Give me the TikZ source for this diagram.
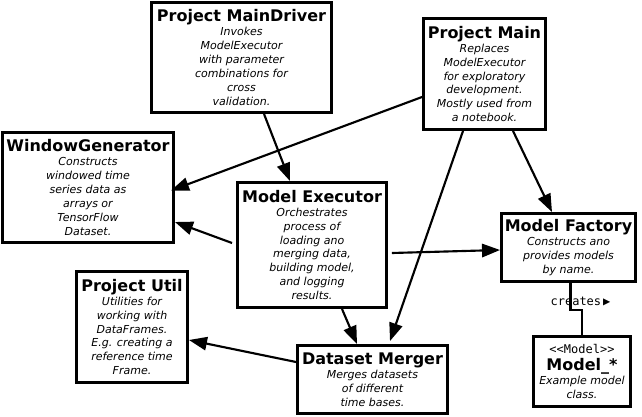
\documentclass[tikz,border=0pt]{standalone}
\usepackage{fontspec}
\setmainfont{DejaVu Sans}
\newfontfamily\monofont{DejaVu Sans Mono}
\usetikzlibrary{arrows.meta, calc}
\newcommand{\clsbox}[2]{{\fontsize{12}{14}\selectfont\bfseries\upshape #1}\\#2}

\begin{document}
\begin{tikzpicture}
        [
            x=0.75pt, y=-0.75pt,
            box/.style 2 args={draw, line width=2.2pt, align=center, inner sep=2pt,
                          minimum width=#1*0.75pt, minimum height=#2*0.75pt,
                          font=\fontsize{8.25}{10.4}\selectfont\itshape},
            dep/.style={-{Triangle[length=13.5pt, width=10pt]}, line width=1.6pt},
            mono/.style={font=\monofont\fontsize{9}{11}\selectfont}
        ]
        \path [fill=white] (0,0) rectangle (642,417);
        \node (driver) [box={180}{110}] at (241.5,57.5)
            {\clsbox{Project MainDriver}{Invokes\\ModelExecutor\\with parameter\\combinations for\\cross\\validation.}};
        \node (main) [box={122}{111}] at (484.5,74)
            {\clsbox{Project Main}{Replaces\\ModelExecutor\\for exploratory\\development.\\Mostly used from\\a notebook.}};
        \node (window) [box={171}{110}] at (88,187.5)
            {\clsbox{WindowGenerator}{Constructs\\windowed time\\series data as\\arrays or\\TensorFlow\\Dataset.}};
        \node (exec) [box={149}{125}] at (312,245)
            {\clsbox{Model Executor}{Orchestrates\\process of\\loading ano\\merging data,\\building model,\\and logging\\results.}};
        \node (factory) [box={134}{68}] at (568.5,247.5)
            {\clsbox{Model Factory}{Constructs ano\\provides models\\by name.}};
        \node (util) [box={111}{111}] at (132,327)
            {\clsbox{Project Util}{Utilities for\\working with\\DataFrames.\\E.g. creating a\\reference time\\Frame.}};
        \node (merger) [box={150}{68}] at (372.5,379.5)
            {\clsbox{Dataset Merger}{Merges datasets\\of different\\time bases.}};
        \node (model) [box={97}{70}] at (582,371.5)
            {{\monofont\upshape\fontsize{9}{11}\selectfont <\kern0pt<Model>\kern0pt>}\\[2pt]\clsbox{Model\_*}{Example model\\class.}};
        % dependencies
        \draw [dep] ($(driver.south)+(22.5,0)$) -- ($(exec.north)+(-22,0)$);
        \draw [dep] ($(main.west)+(0,23)$) -- ($(window.east)+(-4,3)$);
        \draw [dep] ($(exec.west)+(-4,-2)$) -- ($(window.east)+(0,34.5)$);
        \draw [dep] ($(exec.east)+(4,8)$) -- ($(factory.west)+(0,2.5)$);
        \draw [dep] ($(main.south)+(-21.5,0)$) -- ($(merger.north)+(17.5,-3)$);
        \draw [dep] ($(main.south)+(28.5,0)$) -- ($(factory.north)+(-16.5,0)$);
        \draw [dep] ($(exec.south)+(30,0)$) -- ($(merger.north)+(-15.5,0)$);
        \draw [dep] ($(merger.west)+(0,-17.5)$) -- ($(util.east)+(0,13)$);
        % creates
        \draw [line width=1.6pt] ($(factory.south)+(2,0)$) -- ++(0,27) -| (model.north);
        \node (creates) [mono] at (580.5,302) {creates\,{\fontsize{9}{9}\selectfont ▶}};
    \end{tikzpicture}
\end{document}
